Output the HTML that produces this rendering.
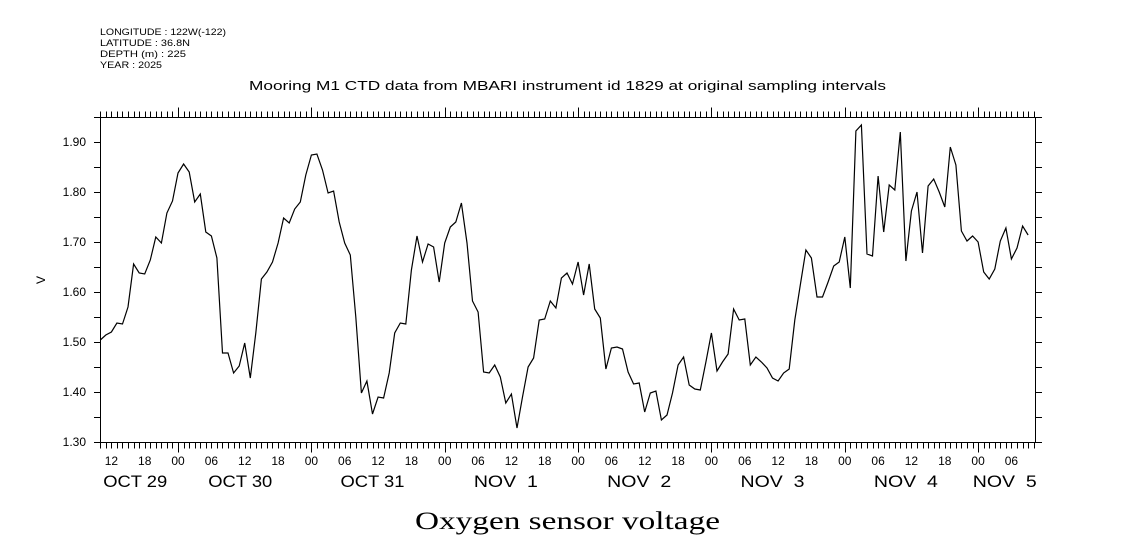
<!DOCTYPE html>
<html><head><meta charset="utf-8"><style>
body{margin:0;background:#fff;}
svg{display:block;font-family:"Liberation Sans",sans-serif;}
</style></head><body>
<svg id="chart" width="1121" height="560" viewBox="0 0 1121 560">
<g font-size="9" fill="#000">
<text x="100" y="35" textLength="126" lengthAdjust="spacingAndGlyphs">LONGITUDE : 122W(-122)</text>
<text x="100" y="46" textLength="90" lengthAdjust="spacingAndGlyphs">LATITUDE : 36.8N</text>
<text x="100" y="57" textLength="86" lengthAdjust="spacingAndGlyphs">DEPTH (m) : 225</text>
<text x="100" y="68" textLength="62" lengthAdjust="spacingAndGlyphs">YEAR : 2025</text>
</g>
<text x="249" y="90" textLength="637" lengthAdjust="spacingAndGlyphs" font-size="13">Mooring M1 CTD data from MBARI instrument id 1829 at original sampling intervals</text>
<text x="0" y="0" transform="translate(45,280) rotate(-90)" text-anchor="middle" font-size="12">V</text>
<text x="415" y="529" textLength="305" lengthAdjust="spacingAndGlyphs" font-size="25" font-family="Liberation Serif, serif">Oxygen sensor voltage</text>
<rect x="100.5" y="117.5" width="935" height="325" fill="none" stroke="#000" stroke-width="1"/>
<g id="axes"></g>
<path id="line" fill="none" stroke="#000" stroke-width="1.2"/>
</svg>
<script>
const startHour = 10;
const values = [1.504,1.514,1.520,1.538,1.536,1.570,1.656,1.638,1.636,1.664,1.710,1.698,1.758,1.782,1.838,1.856,1.840,1.780,1.796,1.720,1.712,1.668,1.478,1.478,1.438,1.452,1.498,1.428,1.518,1.626,1.640,1.660,1.698,1.748,1.738,1.766,1.780,1.834,1.874,1.876,1.844,1.798,1.802,
1.740,1.698,1.674,1.550,1.398,1.422,1.356,1.390,1.388,1.438,1.518,1.538,1.536,1.644,1.712,1.660,1.696,1.690,1.620,1.698,1.730,1.740,1.778,1.698,1.582,1.560,1.440,1.438,1.454,1.430,1.378,1.396,1.328,1.390,1.450,1.468,1.544,1.546,1.582,1.568,1.628,1.638,1.616,1.660,1.594,
1.656,1.566,1.548,1.446,1.488,1.490,1.486,1.440,1.416,1.418,1.360,1.398,1.402,1.344,1.354,1.398,1.454,1.470,1.414,1.406,1.404,1.460,1.518,1.442,1.460,1.476,1.566,1.544,1.546,1.454,1.470,1.460,1.448,1.428,1.422,1.438,1.446,1.544,
1.614,1.684,
1.668,1.590,1.590,1.620,1.652,1.660,1.710,1.608,1.922,1.934,1.676,1.672,1.832,1.720,1.814,1.804,1.920,1.662,1.762,1.800,1.678,1.812,1.826,1.800,1.770,1.890,1.854,1.722,1.702,1.712,1.700,1.640,1.626,1.646,1.702,1.728,1.666,1.688,1.732,1.714];
const yTicks = [1.30,1.40,1.50,1.60,1.70,1.80,1.90];
const hourLabels = ["12","18","00","06","12","18","00","06","12","18","00","06","12","18","00","06","12","18","00","06","12","18","00","06","12","18","00","06"];
const dayLabels = ["OCT 29","OCT 30","OCT 31","NOV  1","NOV  2","NOV  3","NOV  4","NOV  5"];
const dayLabelHours = [16.3,35.2,59,83,107,131,155,172.8];

const X = h => 44.7 + h*5.556;
const Y = v => 442 - (v-1.30)*500;
const ns = "http://www.w3.org/2000/svg";
const ax = document.getElementById('axes');
function mk(tag, attrs, parent){const e=document.createElementNS(ns,tag);for(const k in attrs)e.setAttribute(k,attrs[k]);(parent||ax).appendChild(e);return e;}

for(let h=10; h<=178; h++){
  const x = Math.round(X(h))+0.5;
  const len = (h%24===0)?10:6;
  const t1 = mk('line',{x1:x,x2:x,y1:117.5,y2:117.5-len,stroke:'#000'});
  
  
  const t2 = mk('line',{x1:x,x2:x,y1:442.5,y2:442.5+len,stroke:'#000'});
  
  
}
hourLabels.forEach((lab,i)=>{
  const h = 12 + i*6;
  const t = mk('text',{x:X(h),y:465,'text-anchor':'middle','font-size':12});
  t.textContent = lab;
  
  
});
dayLabels.forEach((lab,i)=>{
  const t = mk('text',{x:X(dayLabelHours[i])-32,y:487,'font-size':17,textLength:64,lengthAdjust:'spacingAndGlyphs'});
  t.textContent = lab;
  t.style.whiteSpace='pre';
  
  
});
for(let k=0;k<=13;k++){
  const v = 1.30 + k*0.05;
  const y = Math.round(Y(v))+0.5;
  const a = mk('line',{x1:100.5,x2:94,y1:y,y2:y,stroke:'#000'});
  
  
  const b = mk('line',{x1:1035.5,x2:1042,y1:y,y2:y,stroke:'#000'});
  
  
}
yTicks.forEach(v=>{
  const t = mk('text',{x:86,y:Y(v)+4,'text-anchor':'end','font-size':12});
  t.textContent = v.toFixed(2);
  
  
});
let d='';
values.forEach((v,i)=>{d += (i?'L':'M') + X(startHour+i).toFixed(1) + ',' + Y(v).toFixed(1);});
document.getElementById('line').setAttribute('d', d);
</script>
</body></html>
